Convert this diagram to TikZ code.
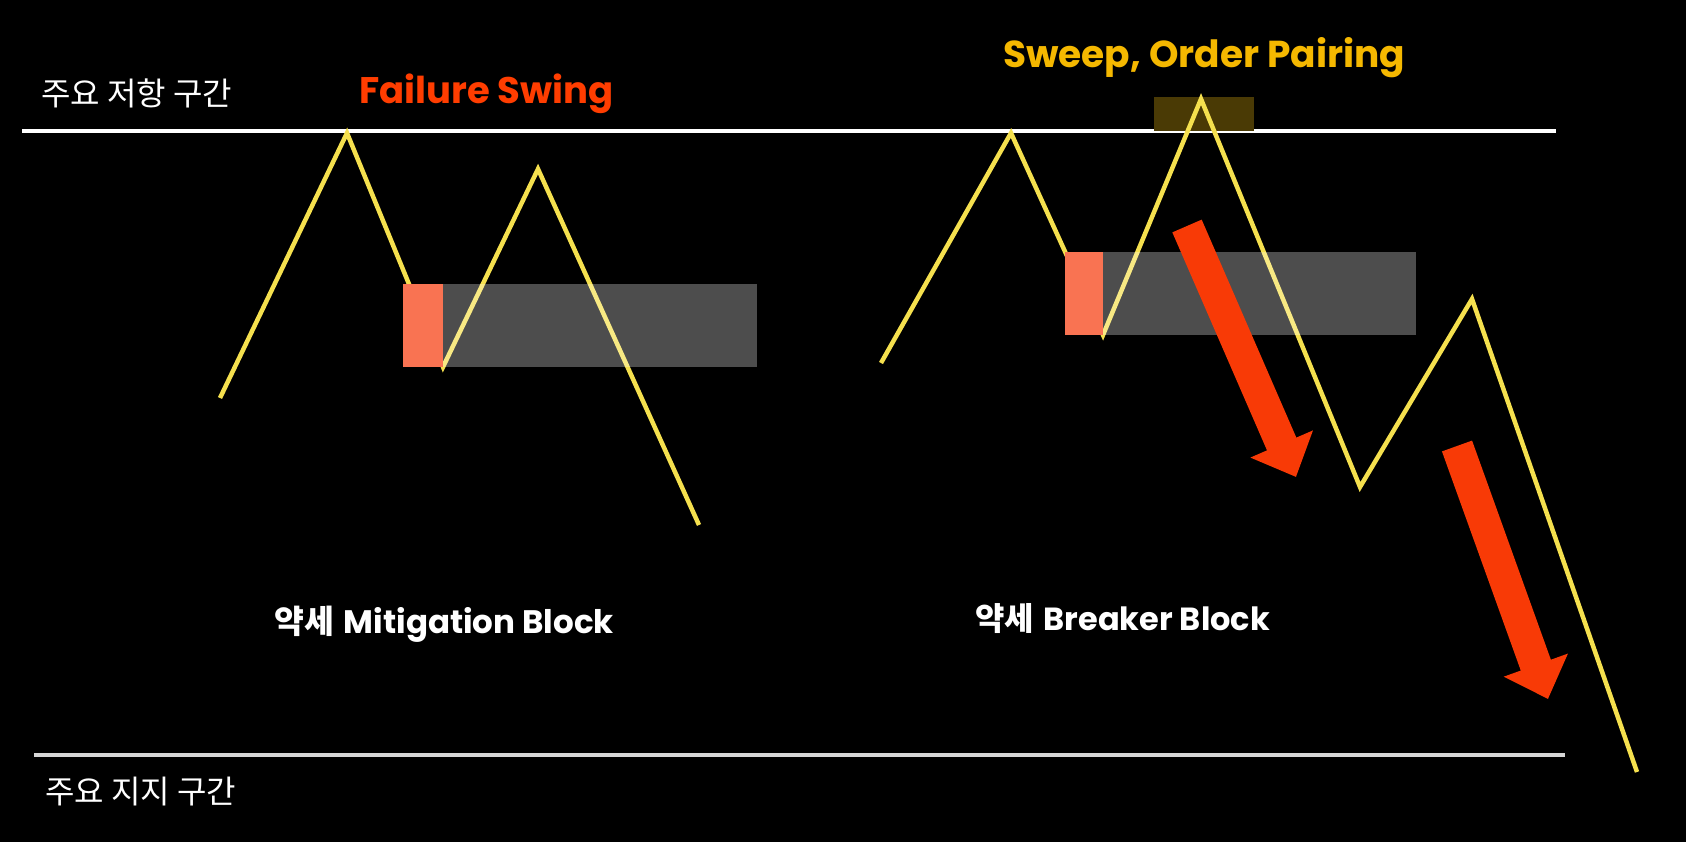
\documentclass[tikz,border=0pt]{standalone}
\usepackage{fontspec}
\usetikzlibrary{arrows.meta}
\newfontfamily\kr{Noto Sans CJK KR}
\newfontfamily\pop{Poppins}
\definecolor{zig}{HTML}{F5E04E}
\definecolor{fail}{HTML}{FF3D00}
\definecolor{sweep}{HTML}{F5B800}
\definecolor{ob}{HTML}{F97352}
\definecolor{sweepbox}{HTML}{4A3A05}
\definecolor{redarrow}{HTML}{F83A06}
\definecolor{bottomline}{HTML}{D6D6D6}
\begin{document}
\begin{tikzpicture}[x=1pt,y=-1pt,
  zz/.style={draw=zig, line width=4.5pt, line join=miter},
  graybox/.style={fill=white, fill opacity=0.3},
  orangebox/.style={fill=ob},
  bigarrow/.style={draw=redarrow, line width=32pt, -{Triangle[width=66pt,length=36pt]}},
  hdr/.style={text=white, font=\kr\fontsize{32}{38}\selectfont, inner sep=0pt, anchor=base west},
  lbl/.style={text=white, inner sep=0pt, anchor=base west}]
\fill[black] (0,0) rectangle (1686,842);
\useasboundingbox (0,0) rectangle (1686,842);

% horizontal levels
\coordinate (tl) at (22,131);
\coordinate (tr) at (1556,131);
\coordinate (bl) at (34,755);
\coordinate (br) at (1565,755);
\draw[white, line width=3.5pt] (tl) -- (tr);
\draw[bottomline, line width=3.5pt] (bl) -- (br);

% sweep box
\fill[sweepbox] (1154,97) rectangle (1254,131);

% zigzags
\coordinate (a1) at (220,398);
\coordinate (a2) at (347,133);
\coordinate (a3) at (443,367);
\coordinate (a4) at (538,169);
\coordinate (a5) at (699,525);
\draw[zz] (a1) -- (a2) -- (a3) -- (a4) -- (a5);

\coordinate (b1) at (881,363);
\coordinate (b2) at (1011,133);
\coordinate (b3) at (1103,335);
\coordinate (b4) at (1201,99);
\coordinate (b5) at (1360,487);
\coordinate (b6) at (1472,299);
\coordinate (b7) at (1637,772);
\draw[zz] (b1) -- (b2) -- (b3) -- (b4) -- (b5) -- (b6) -- (b7);

% blocks
\fill[graybox] (443,284) rectangle (757,367);
\fill[orangebox] (403,284) rectangle (443,367);
\fill[graybox] (1103,252) rectangle (1416,335);
\fill[orangebox] (1065,252) rectangle (1103,335);

% red arrows
\coordinate (r1s) at (1187,226);
\coordinate (r1e) at (1296,477);
\coordinate (r2s) at (1457,446);
\coordinate (r2e) at (1548,699);
\draw[bigarrow] (r1s) -- (r1e);
\draw[bigarrow] (r2s) -- (r2e);

% texts
\node[hdr] (res) at (41,106) {주요 저항 구간};
\node[hdr] (sup) at (45,803) {주요 지지 구간};
\node[lbl, text=fail, font=\pop\bfseries\fontsize{37}{44}\selectfont] (fs) at (359,104) {Failure Swing};
\node[lbl, text=sweep, font=\pop\bfseries\fontsize{37.5}{44}\selectfont] (sw) at (1003,68) {Sweep, Order Pairing};
\node[lbl, font=\fontsize{32.5}{38}\selectfont] (mb) at (274,633) {{\kr\bfseries 약세} {\pop\bfseries Mitigation Block}};
\node[lbl, font=\fontsize{32}{38}\selectfont] (bb) at (975,630) {{\kr\bfseries 약세} {\pop\bfseries Breaker Block}};
\end{tikzpicture}
\end{document}
